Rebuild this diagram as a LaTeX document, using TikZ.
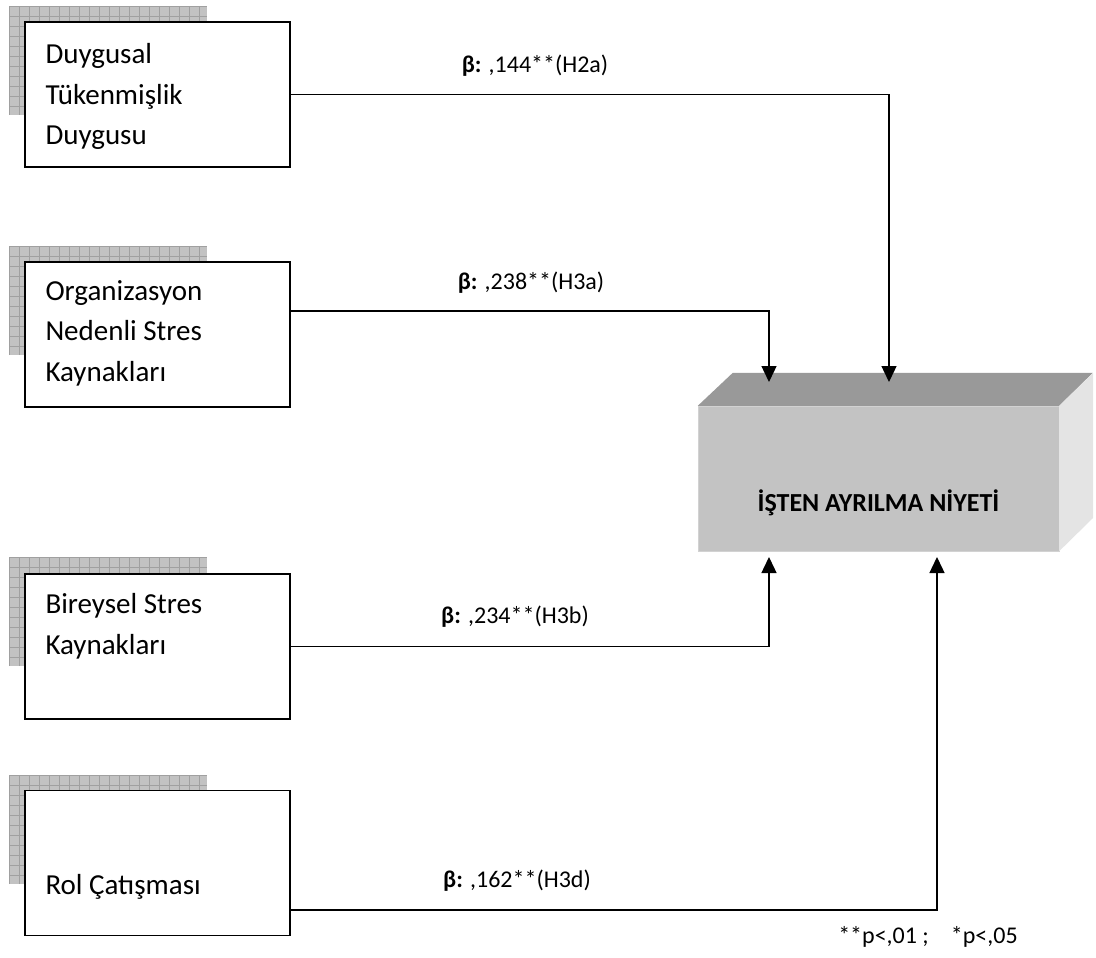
\documentclass[tikz,border=0pt]{standalone}
\usepackage{fontspec}
\setmainfont{Carlito}
\usetikzlibrary{positioning, calc, arrows.meta}
\definecolor{frontgray}{HTML}{C3C3C3}
\definecolor{topgray}{HTML}{999999}
\definecolor{sidegray}{HTML}{E4E4E4}
\definecolor{shadowgray}{HTML}{C2C2C2}
\definecolor{gridgray}{HTML}{A0A0A0}
\tikzset{
    x=1pt, y=-1pt, % one unit is one pixel, y runs downwards
    factor/.style={draw, line width=1.4pt, fill=white, minimum width=265pt, minimum height=145pt, inner sep=0pt}, % the four cause boxes
    factortext/.style={anchor=north west, align=left, inner sep=0pt, font=\fontsize{29}{40.5}\selectfont},
    front/.style={fill=frontgray, draw=gray!35, minimum width=361pt, minimum height=145pt, inner sep=0pt}, % front of the 3d box
    coef/.style={inner sep=0pt, font=\fontsize{24}{28}\selectfont}, % beta labels
    link/.style={line width=1.4pt, -{Triangle[length=16pt, width=15pt]}}, % arrows into the box
}
\begin{document}
\begin{tikzpicture}
    \useasboundingbox (0,0) rectangle (1096,958);
    % hatched shadows behind the boxes
    \foreach \t in {6,246,557,775} {
        \fill[shadowgray] (9,\t) rectangle ++(198,109);
        \draw[gridgray, line width=0.6pt, step=10pt, shift={(9,\t)}] (0,0) grid (198,109);
    }
    \node[factor] (dts) at (157.5,94.5) {};
    \node[factor] (org) at (157.5,334.5) {};
    \node[factor] (bir) at (157.5,646.5) {};
    \node[factor] (rol) at (157.5,863) {};
    \node[factortext] (dtsText) at ($(dts.north west)+(21,22)$) {Duygusal\\Tükenmişlik\\Duygusu};
    \node[factortext] (orgText) at ($(org.north west)+(21,19)$) {Organizasyon\\Nedenli Stres\\Kaynakları};
    \node[factortext] (birText) at ($(bir.north west)+(21,20)$) {Bireysel Stres\\Kaynakları};
    \node[factortext] (rolText) at ($(rol.north west)+(21,84)$) {Rol Çatışması};

    % the 3d box
    \node[front] (niyet) at (878.5,478.5) {};
    \fill[topgray] (niyet.north west) -- ++(35,-33) -- ++(360,0) -- (niyet.north east) -- cycle;
    \fill[sidegray] (niyet.north east) -- ++(34,-33) -- ++(0,145) -- (niyet.south east) -- cycle;
    \node[inner sep=0pt, font=\bfseries\fontsize{26}{30}\selectfont] (niyetText) at (878.5,503) {İŞTEN AYRILMA NİYETİ};

    \coordinate (inA) at (769,382);
    \coordinate (inB) at (889,382);
    \coordinate (inC) at (769,557);
    \coordinate (inD) at (937,557);
    \draw[link] (dts.east) -| (inB);
    \draw[link] ($(org.east)+(0,-23.5)$) -| (inA);
    \draw[link] (bir.east) -| (inC);
    \draw[link] ($(rol.east)+(0,47)$) -| (inD);

    \node[coef] (b2a) at (535,66) {\textbf{β:} ,144**(H2a)};
    \node[coef] (b3a) at (531,283) {\textbf{β:} ,238**(H3a)};
    \node[coef] (b3b) at (515,617) {\textbf{β:} ,234**(H3b)};
    \node[coef] (b3d) at (517,881) {\textbf{β:} ,162**(H3d)};
    \node[coef] (sig) at (928,937) {**p<,01 ;\hspace{22pt}*p<,05};
\end{tikzpicture}
\end{document}
